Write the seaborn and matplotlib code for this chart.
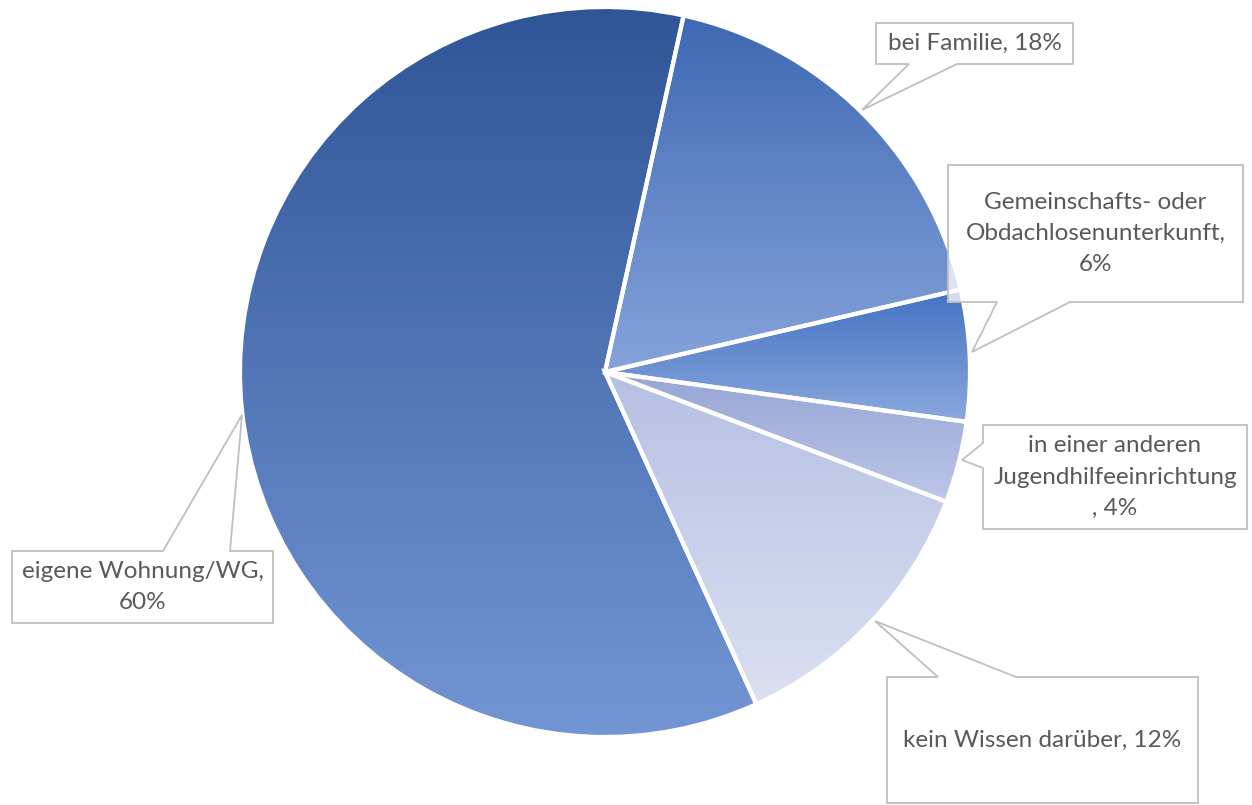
"""
Kreisdiagramm: Wohnsituation nach der Hilfe (Verlaufsfüllung wie in Excel)
"""

import numpy as np
import matplotlib
matplotlib.use('Agg')
import matplotlib.pyplot as plt
import seaborn as sns
from matplotlib.colors import LinearSegmentedColormap
from matplotlib.patches import Polygon, Wedge

# ---------------------------------------------------------------
# Daten
# ---------------------------------------------------------------
kategorien = ['eigene Wohnung/WG', 'bei Familie',
              'Gemeinschafts- oder Obdachlosenunterkunft',
              'in einer anderen Jugendhilfeeinrichtung',
              'kein Wissen darüber']
anteile = [60.2, 17.9, 5.8, 3.6, 12.4]
# Beschriftungen mit Zeilenumbruch wie im Original
beschriftung = ['eigene Wohnung/WG,\n{}%', 'bei Familie, {}%',
                'Gemeinschafts- oder\nObdachlosenunterkunft,\n{}%',
                'in einer anderen\nJugendhilfeeinrichtung\n, {}%',
                'kein Wissen darüber, {}%']
# Verlaufsfarben (oben -> unten)
farben_oben = ['#2f5597', '#3e68b3', '#4472c4', '#97a5d5', '#b5c0e2']
farben_unten = ['#7395d4', '#86a3da', '#8aa8dc', '#bcc6e7', '#dbe0f1']

# ---------------------------------------------------------------
# Layout (Pixel, y von oben)
# ---------------------------------------------------------------
W, H = 1252, 805
MITTE = (605, 372)
RADIUS = 365

# Callout-Boxen: (links, oben, rechts, unten), Zeiger
boxen = [
    dict(box=(12, 551, 273, 623), seite='oben', basis=(163, 230), spitze=(242, 415)),
    dict(box=(876, 23, 1073, 64), seite='unten', basis=(909, 957), spitze=(862, 110)),
    dict(box=(948, 165, 1243, 302), seite='unten', basis=(997, 1070), spitze=(972, 352)),
    dict(box=(983, 425, 1247, 529), seite='links', basis=(443, 468), spitze=(962, 460)),
    dict(box=(887, 677, 1198, 803), seite='oben', basis=(938, 1016), spitze=(875, 621)),
]

sns.set_theme(style='white')
plt.rcParams['font.family'] = ['Lato', 'DejaVu Sans']

fig = plt.figure(figsize=(W / 100, H / 100), dpi=100)
ax = fig.add_axes([0, 0, 1, 1])


def py(y):
    return H - y


summe = sum(anteile)
wedges, _ = ax.pie(anteile, startangle=-65.5, counterclock=False,
                   center=(MITTE[0], py(MITTE[1])), radius=RADIUS,
                   wedgeprops=dict(facecolor='none', edgecolor='none'))

for i, w in enumerate(wedges):
    pfad = w.get_patch_transform().transform(w.get_path().vertices)
    y0, y1 = pfad[:, 1].min(), pfad[:, 1].max()
    x0, x1 = pfad[:, 0].min(), pfad[:, 0].max()
    cmap = LinearSegmentedColormap.from_list('g%d' % i, [farben_oben[i], farben_unten[i]])
    grad = np.linspace(0, 1, 256).reshape(-1, 1)
    im = ax.imshow(grad, cmap=cmap, extent=[x0, x1, y0, y1], origin='upper',
                   aspect='auto', zorder=1, interpolation='bilinear')
    im.set_clip_path(w)
    # weiße Trennlinien
    rand = Wedge(w.center, w.r, w.theta1, w.theta2, facecolor='none',
                 edgecolor='white', linewidth=3, zorder=2)
    ax.add_patch(rand)

# Callouts
for i, b in enumerate(boxen):
    l, o, r, u = b['box']
    s = b['spitze']
    if b['seite'] == 'oben':
        pts = [(l, o), (b['basis'][0], o), s, (b['basis'][1], o), (r, o), (r, u), (l, u)]
    elif b['seite'] == 'unten':
        pts = [(l, o), (r, o), (r, u), (b['basis'][1], u), s, (b['basis'][0], u), (l, u)]
    else:
        pts = [(l, o), (r, o), (r, u), (l, u), (l, b['basis'][1]), s, (l, b['basis'][0])]
    pts = [(x, py(y)) for x, y in pts]
    ax.add_patch(Polygon(pts, closed=True, facecolor=(1, 1, 1, 0.75),
                         edgecolor='#bfbfbf', linewidth=1.3, zorder=3))
    pct = round(anteile[i] / summe * 100)
    ax.text((l + r) / 2, py((o + u) / 2), beschriftung[i].format(pct),
            ha='center', va='center', fontsize=17.5, color='#595959',
            linespacing=1.6, zorder=4)

ax.set_xlim(0, W)
ax.set_ylim(0, H)
ax.set_aspect('equal')
ax.axis('off')

fig.savefig('out.png', dpi=100, facecolor='white')
